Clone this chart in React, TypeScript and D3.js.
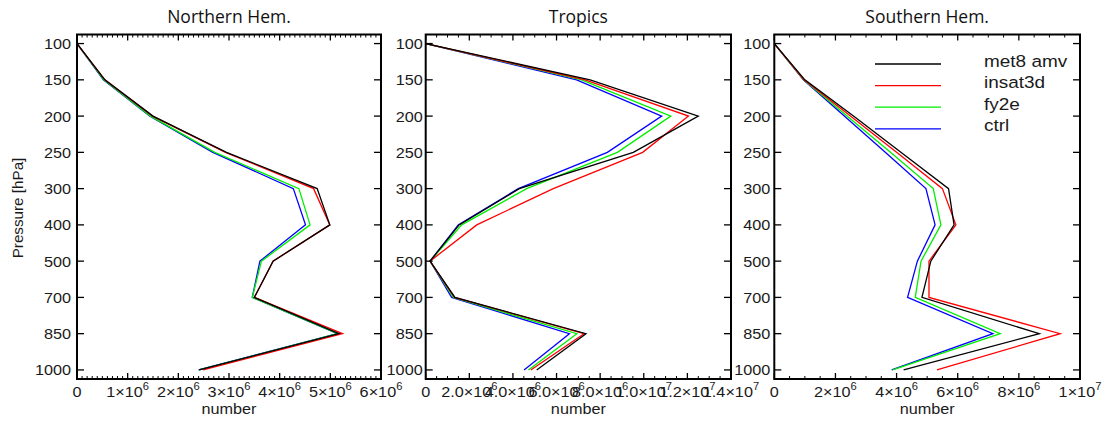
import React from "react";
import * as d3 from "d3";

const levels = [100, 150, 200, 250, 300, 400, 500, 700, 850, 1000];
const seriesNames = ["met8 amv", "insat3d", "fy2e", "ctrl"];
const seriesColors = ["#000000", "#ff0000", "#00ee00", "#0000ff"];

// Northern Hemisphere
const nhMet8 = [0, 0.55e6, 1.5e6, 2.95e6, 4.74e6, 4.99e6, 3.87e6, 3.5e6, 5.17e6, 2.41e6];
const nhInsat = [0, 0.55e6, 1.49e6, 2.93e6, 4.67e6, 4.99e6, 3.87e6, 3.5e6, 5.24e6, 2.49e6];
const nhFy2e = [0, 0.53e6, 1.45e6, 2.72e6, 4.38e6, 4.6e6, 3.64e6, 3.46e6, 5.15e6, 2.41e6];
const nhCtrl = [0, 0.52e6, 1.44e6, 2.68e6, 4.27e6, 4.51e6, 3.61e6, 3.46e6, 5.14e6, 2.4e6];

// Tropics
const trMet8 = [0, 7.54e6, 12.5e6, 9.52e6, 4.29e6, 1.53e6, 0.2e6, 1.34e6, 7.35e6, 5.09e6];
const trInsat = [0, 7.31e6, 12.05e6, 9.95e6, 5.85e6, 2.34e6, 0.2e6, 1.32e6, 7.26e6, 4.82e6];
const trFy2e = [0, 7.15e6, 11.24e6, 8.79e6, 4.63e6, 1.65e6, 0.2e6, 1.27e6, 6.93e6, 4.71e6];
const trCtrl = [0, 6.92e6, 10.82e6, 8.33e6, 4.25e6, 1.49e6, 0.2e6, 1.19e6, 6.59e6, 4.51e6];

// Southern Hemisphere
const shMet8 = [0, 1.0e6, 2.59e6, 4.14e6, 5.7e6, 5.88e6, 5.12e6, 4.83e6, 8.67e6, 4.23e6];
const shInsat = [0, 0.97e6, 2.49e6, 4.0e6, 5.5e6, 5.94e6, 5.06e6, 5.06e6, 9.35e6, 5.32e6];
const shFy2e = [0, 0.96e6, 2.38e6, 3.8e6, 5.2e6, 5.45e6, 4.8e6, 4.61e6, 7.39e6, 3.87e6];
const shCtrl = [0, 0.95e6, 2.29e6, 3.63e6, 4.96e6, 5.26e6, 4.68e6, 4.36e6, 7.15e6, 3.84e6];

const nhTickLabels = ["0", "1×10^6", "2×10^6", "3×10^6", "4×10^6", "5×10^6", "6×10^6"];
const trTickLabels = ["0", "2.0×10^6", "4.0×10^6", "6.0×10^6", "8.0×10^6", "1.0×10^7", "1.2×10^7", "1.4×10^7"];
const shTickLabels = ["0", "2×10^6", "4×10^6", "6×10^6", "8×10^6", "1×10^7"];

const titles = ["Northern Hem.", "Tropics", "Southern Hem."];

const panels = [
  { title: titles[0], series: [nhMet8, nhInsat, nhFy2e, nhCtrl], xMax: 6e6, major: 1e6, minor: 1e5, labels: nhTickLabels, x0: 77, x1: 381, labelGap: 6, legend: false, ylabel: true },
  { title: titles[1], series: [trMet8, trInsat, trFy2e, trCtrl], xMax: 1.4e7, major: 2e6, minor: 5e5, labels: trTickLabels, x0: 425.7, x1: 731, labelGap: 3, legend: false, ylabel: false },
  { title: titles[2], series: [shMet8, shInsat, shFy2e, shCtrl], xMax: 1e7, major: 2e6, minor: 5e5, labels: shTickLabels, x0: 774.3, x1: 1080, labelGap: 4, legend: true, ylabel: false },
];

const TOP = 34.5;
const BOTTOM = 379;
const SANS = "'Liberation Sans', Arial, sans-serif";
const SX = 1.12;

function TickLabel({ x, y, label }: { x: number; y: number; label: string }) {
  const [base, exp] = label.split("^");
  return (
    <text transform={`translate(${x},${y}) scale(${SX},1)`} textAnchor="middle" fontFamily={SANS} fontSize={14.5} fill="#1a1a1a">
      <tspan>{base}</tspan>
      {exp !== undefined && (
        <tspan dy={-7} fontSize={10}>
          {exp}
        </tspan>
      )}
    </text>
  );
}

function Panel({ p }: { p: (typeof panels)[number] }) {
  const x = d3.scaleLinear().domain([0, p.xMax]).range([p.x0, p.x1]);
  const y = d3.scaleLinear().domain([-0.25, levels.length - 0.75]).range([TOP, BOTTOM]);
  const majors = d3.range(0, p.xMax + 1, p.major);
  const minors = d3.range(0, p.xMax + 1, p.minor).filter((v) => Math.abs(v / p.major - Math.round(v / p.major)) > 1e-6);
  const line = d3
    .line<number>()
    .x((d) => x(d))
    .y((_, i) => y(i));
  const cx = (p.x0 + p.x1) / 2;
  const order = [3, 2, 1, 0];
  return (
    <g>
      <text x={cx} y={23} textAnchor="middle" fontFamily="'Open Sans', 'Noto Sans', sans-serif" fontSize={17.5} fill="#111">
        {p.title}
      </text>
      {order.map((i) => (
        <path key={i} d={line(p.series[i]) || ""} fill="none" stroke={seriesColors[i]} strokeWidth={1.3} />
      ))}
      {minors.map((v) => (
        <g key={"m" + v} stroke="#000" strokeWidth={1}>
          <line x1={x(v)} x2={x(v)} y1={TOP} y2={TOP + 3} />
          <line x1={x(v)} x2={x(v)} y1={BOTTOM} y2={BOTTOM - 3} />
        </g>
      ))}
      {majors.map((v) => (
        <g key={"M" + v} stroke="#000" strokeWidth={1.3}>
          <line x1={x(v)} x2={x(v)} y1={TOP} y2={TOP + 6} />
          <line x1={x(v)} x2={x(v)} y1={BOTTOM} y2={BOTTOM - 6} />
        </g>
      ))}
      {levels.map((lv, i) => (
        <g key={"y" + lv} stroke="#000" strokeWidth={1.3}>
          <line x1={p.x0} x2={p.x0 + 7} y1={y(i)} y2={y(i)} />
          <line x1={p.x1} x2={p.x1 - 7} y1={y(i)} y2={y(i)} />
        </g>
      ))}
      <rect x={p.x0} y={TOP} width={p.x1 - p.x0} height={BOTTOM - TOP} fill="none" stroke="#000" strokeWidth={2} />
      {levels.map((lv, i) => (
        <text
          key={"yl" + lv}
          transform={`translate(${p.x0 - p.labelGap},${y(i) + 5.5}) scale(${SX},1)`}
          textAnchor="end"
          fontFamily={SANS}
          fontSize={14.5}
          fill="#1a1a1a"
        >
          {lv}
        </text>
      ))}
      {majors.map((v, i) => (
        <TickLabel key={"xl" + v} x={x(v)} y={397} label={p.labels[i]} />
      ))}
      <text transform={`translate(${cx},414) scale(${SX},1)`} textAnchor="middle" fontFamily={SANS} fontSize={14.5} fill="#1a1a1a">
        number
      </text>
      {p.ylabel && (
        <text transform={`translate(23,208) rotate(-90) scale(1.05,1)`} textAnchor="middle" fontFamily={SANS} fontSize={14.5} fill="#1a1a1a">
          Pressure [hPa]
        </text>
      )}
      {p.legend &&
        seriesNames.map((n, i) => (
          <g key={n}>
            <line x1={875} x2={941} y1={64 + i * 21.6} y2={64 + i * 21.6} stroke={seriesColors[i]} strokeWidth={1.3} />
            <text transform={`translate(984,${66.5 + i * 21.6}) scale(1.15,1)`} fontFamily={SANS} fontSize={16.5} fill="#1a1a1a">
              {n}
            </text>
          </g>
        ))}
    </g>
  );
}

export default function App() {
  return (
    <div style={{ position: "absolute", left: 0, top: 0 }}>
      <svg width={1107} height={421} style={{ display: "block", background: "#fff" }}>
        {panels.map((p) => (
          <Panel key={p.title} p={p} />
        ))}
      </svg>
    </div>
  );
}
